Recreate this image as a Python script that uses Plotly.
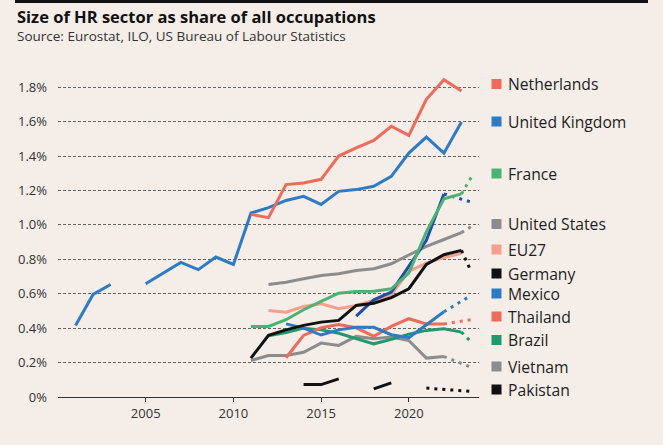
import plotly.graph_objects as go

# ---- data (share of all occupations, %) ----
uk_years = list(range(2001, 2024))
united_kingdom = [0.416, 0.596, 0.654, None, 0.658, 0.72, 0.782, 0.74, 0.813, 0.77,
                  1.069, 1.10, 1.142, 1.166, 1.119, 1.195, 1.205, 1.224, 1.282,
                  1.417, 1.51, 1.417, 1.598]

years = list(range(2011, 2024))
netherlands = [1.061, 1.042, 1.234, 1.243, 1.265, 1.40, 1.447, 1.491, 1.573, 1.52, 1.73, 1.844, 1.778]
france = [0.41, 0.41, 0.449, 0.507, 0.555, 0.603, 0.613, 0.615, 0.629, 0.72, 0.96, 1.152, 1.18]
united_states = [None, 0.654, 0.667, 0.687, 0.706, 0.716, 0.735, 0.745, 0.774, 0.825, 0.875, 0.915, 0.955]
eu27 = [None, 0.503, 0.493, 0.526, 0.542, 0.513, 0.532, 0.561, 0.595, 0.73, 0.778, 0.81, 0.835]
germany = [0.226, 0.358, 0.39, 0.416, 0.435, 0.445, 0.532, 0.545, 0.577, 0.629, 0.77, 0.827, 0.852]
mexico = [None, None, 0.425, 0.40, 0.36, 0.39, 0.405, 0.405, 0.362, 0.345, 0.42, 0.495, None]
thailand = [None, None, 0.228, 0.358, 0.402, 0.421, 0.402, 0.352, 0.41, 0.455, 0.424, 0.424, None]
brazil = [None, 0.355, 0.375, 0.40, 0.39, 0.37, 0.338, 0.309, 0.335, 0.365, 0.387, 0.397, 0.377]
vietnam = [0.212, 0.241, 0.241, 0.26, 0.313, 0.30, 0.352, 0.338, 0.348, 0.328, 0.226, 0.235, None]
pakistan = [None, None, None, 0.072, 0.072, 0.105, None, 0.047, 0.082, None, None, None, None]
unlabelled = [None, None, None, None, None, None, 0.47, 0.565, 0.61, 0.76, 0.91, 1.18, None]

# dotted tails (latest estimates)
tail_from_2023 = [2023, 2023.55]
tail_from_2022 = [2022, 2023.55]
tail_from_2021 = [2021, 2022, 2023, 2023.55]
france_tail = [1.18, 1.275]
united_states_tail = [0.955, 0.99]
germany_tail = [0.852, 0.73]
brazil_tail = [0.377, 0.32]
mexico_tail = [0.495, 0.59]
thailand_tail = [0.424, 0.449]
vietnam_tail = [0.235, 0.173]
unlabelled_tail = [1.18, 1.133]
pakistan_tail = [0.052, 0.045, 0.038, 0.032]

y_ticks = [0, 0.2, 0.4, 0.6, 0.8, 1.0, 1.2, 1.4, 1.6, 1.8]
y_tick_labels = ["0%", "0.2%", "0.4%", "0.6%", "0.8%", "1.0%", "1.2%", "1.4%", "1.6%", "1.8%"]
x_ticks = [2005, 2010, 2015, 2020]

# ---- styling ----
RED = "#ee6a5b"
BLUE = "#2f7bc3"
NAVY = "#1f4ea8"
GREEN = "#4cb273"
DARK_GREEN = "#1e9a6c"
GREY = "#8c8c8c"
SALMON = "#f5a08d"
BLACK = "#111111"
BG = "#f4ede8"
FONT = "Open Sans"

W, H = 663, 445
M_L, M_R, M_T, M_B = 58, 184, 70, 48


def px_x(px):
    return (px - M_L) / (W - M_L - M_R)


def px_y(py):
    return (H - M_B - py) / (H - M_T - M_B)


fig = go.Figure()


def add_line(x, y, color, tail_x=None, tail_y=None):
    fig.add_trace(go.Scatter(x=x, y=y, mode="lines", connectgaps=False,
                             line=dict(color=color, width=3), hoverinfo="skip"))
    if tail_x is not None:
        fig.add_trace(go.Scatter(x=tail_x, y=tail_y, mode="lines",
                                 line=dict(color=color, width=3, dash="3px,5px"),
                                 hoverinfo="skip"))


add_line(years, vietnam, GREY, tail_from_2022, vietnam_tail)
add_line(years, brazil, DARK_GREEN, tail_from_2023, brazil_tail)
add_line(years, thailand, RED, tail_from_2022, thailand_tail)
add_line(years, mexico, BLUE, tail_from_2022, mexico_tail)
add_line(years, eu27, SALMON)
add_line(years, united_states, GREY, tail_from_2023, united_states_tail)
add_line(years, unlabelled, NAVY, tail_from_2022, unlabelled_tail)
add_line(years, france, GREEN, tail_from_2023, france_tail)
add_line(years, germany, BLACK, tail_from_2023, germany_tail)
add_line(years, pakistan, BLACK, tail_from_2021, pakistan_tail)
add_line(uk_years, united_kingdom, BLUE)
add_line(years, netherlands, RED)

# right-hand labels: (name, colour, label centre in px)
labels = [
    ("Netherlands", RED, 84),
    ("United Kingdom", BLUE, 121.5),
    ("France", GREEN, 173.5),
    ("United States", GREY, 224),
    ("EU27", SALMON, 249.5),
    ("Germany", BLACK, 273.5),
    ("Mexico", BLUE, 293.5),
    ("Thailand", RED, 316.5),
    ("Brazil", DARK_GREEN, 340),
    ("Vietnam", GREY, 366.5),
    ("Pakistan", BLACK, 389.5),
]
for name, color, py in labels:
    fig.add_shape(type="rect", xref="paper", yref="paper",
                  x0=px_x(491.5), x1=px_x(501.5), y0=px_y(py + 5), y1=px_y(py - 5),
                  fillcolor=color, line_width=0)
    fig.add_annotation(text=name, xref="paper", yref="paper", x=px_x(506), y=px_y(py),
                       xanchor="left", yanchor="middle", showarrow=False,
                       font=dict(family=FONT, size=15.7, color="#1e1e1e"))

# top rule, title and source
fig.add_shape(type="rect", xref="paper", yref="paper",
              x0=px_x(15), x1=px_x(648), y0=px_y(3), y1=px_y(0),
              fillcolor="#111111", line_width=0)
fig.add_annotation(text="<b>Size of HR sector as share of all occupations</b>",
                   xref="paper", yref="paper", x=px_x(15), y=px_y(16),
                   xanchor="left", yanchor="middle", showarrow=False,
                   font=dict(family=FONT, size=16.5, color="#111111"))
fig.add_annotation(text="Source: Eurostat, ILO, US Bureau of Labour Statistics",
                   xref="paper", yref="paper", x=px_x(15), y=px_y(36.5),
                   xanchor="left", yanchor="middle", showarrow=False,
                   font=dict(family=FONT, size=13.5, color="#333333"))

fig.update_layout(
    width=W, height=H, autosize=False,
    margin=dict(l=M_L, r=M_R, t=M_T, b=M_B),
    paper_bgcolor=BG, plot_bgcolor=BG,
    showlegend=False,
    font=dict(family=FONT, size=13, color="#333333"),
)
fig.update_xaxes(
    range=[2000, 2024], tickvals=x_ticks, showgrid=False, zeroline=False,
    showline=True, linecolor="#333333", linewidth=1.2,
    ticks="outside", ticklen=4, tickcolor="#333333",
    tickfont=dict(family=FONT, size=13, color="#333333"),
)
fig.update_yaxes(
    range=[0, 1.9], tickvals=y_ticks, ticktext=y_tick_labels,
    showgrid=True, gridcolor="#666666", gridwidth=1, griddash="3px,2px",
    zeroline=False, showline=False, ticks="", ticklabelstandoff=10,
    tickfont=dict(family=FONT, size=13, color="#333333"),
)

fig.write_html(
    "out.html",
    config={"displayModeBar": False},
    post_script="document.body.style.margin='0';document.body.style.background='" + BG + "';",
)
